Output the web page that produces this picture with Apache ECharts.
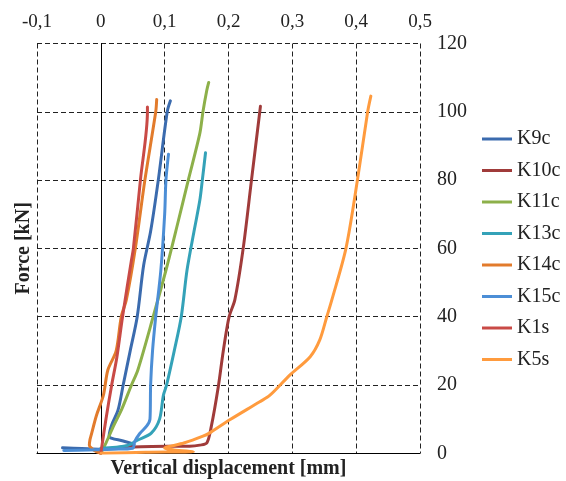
<!DOCTYPE html>
<html>
<head>
<meta charset="utf-8">
<script src="https://cdn.jsdelivr.net/npm/echarts@6/dist/echarts.min.js"></script>
<style>
  html, body { margin: 0; padding: 0; background: #fff; }
  #chart { width: 566px; height: 481px; }
</style>
</head>
<body>
<div id="chart"></div>
<script>
// Load–displacement curves: [vertical displacement (mm), force (kN)]
const seriesNames = ['K9c', 'K10c', 'K11c', 'K13c', 'K14c', 'K15c', 'K1s', 'K5s'];

const K9c = [[-0.060,1.6],[-0.030,1.4],[0.000,1.2],[0.030,1.8],[0.052,2.6],[0.035,3.6],[0.013,5.0],[0.017,8.3],[0.027,12.7],[0.035,20],[0.046,30],[0.057,40],[0.067,55],[0.078,65],[0.090,80],[0.104,100],[0.109,103.2]];
const K10c = [[0.040,1.8],[0.080,2.0],[0.139,2.1],[0.155,2.4],[0.166,3.0],[0.173,7.8],[0.184,19.5],[0.192,30.2],[0.201,40],[0.210,45],[0.223,60],[0.236,80],[0.249,100],[0.250,101.6]];
const K11c = [[0.000,0.0],[0.008,3],[0.020,8],[0.033,13],[0.048,20],[0.058,24.4],[0.082,40],[0.102,53.6],[0.120,67],[0.137,80],[0.155,93.6],[0.160,100],[0.166,106.3],[0.169,108.6]];
const K13c = [[0.000,1.5],[0.040,2.2],[0.058,3.9],[0.079,5.9],[0.092,10],[0.098,17],[0.103,20],[0.115,30],[0.126,40],[0.135,53.6],[0.146,65],[0.155,74],[0.159,80],[0.164,88]];
const K14c = [[0.000,0.0],[-0.010,0.8],[-0.018,2.4],[-0.017,4.0],[-0.015,5.4],[-0.007,11],[0.004,17],[0.011,24.4],[0.024,30],[0.032,40],[0.040,45],[0.054,60],[0.069,80],[0.086,100],[0.0875,103.6]];
const K15c = [[-0.058,0.8],[-0.020,1.0],[0.020,1.2],[0.050,1.5],[0.053,3.4],[0.061,5.8],[0.072,8],[0.077,10],[0.078,20],[0.081,30],[0.086,40],[0.094,53.6],[0.100,70],[0.102,80],[0.106,87.6]];
const K1s = [[0.000,0.0],[0.008,10],[0.017,20],[0.025,28],[0.034,40],[0.048,56.6],[0.051,60],[0.062,80],[0.073,100],[0.073,101.4]];
const K5s = [[0.000,0.0],[0.070,0.3],[0.145,0.5],[0.115,1.0],[0.100,1.5],[0.130,3.0],[0.160,5.0],[0.170,5.9],[0.202,9.8],[0.249,15.1],[0.265,17],[0.296,22.9],[0.328,28.3],[0.343,33.2],[0.354,40],[0.362,45],[0.384,60],[0.402,80],[0.418,100],[0.423,104.6]];

const seriesData = [K9c, K10c, K11c, K13c, K14c, K15c, K1s, K5s];
const seriesColors = ['#3B6BAE', '#A03B3A', '#8DB04A', '#34A2B8', '#E27B2C', '#4C8ED6', '#C94A46', '#FF9B3E'];

const xTickLabels = ['-0,1', '0', '0,1', '0,2', '0,3', '0,4', '0,5'];
const yTickLabels = ['0', '20', '40', '60', '80', '100', '120'];

const FONT = '"Liberation Serif", "Times New Roman", serif';
const dashed = { type: [5, 3], color: '#222', width: 1 };

const chart = echarts.init(document.getElementById('chart'), null, { renderer: 'canvas' });

chart.setOption({
  animation: false,
  backgroundColor: '#fff',
  textStyle: { fontFamily: FONT },
  grid: { left: 37, right: 146, top: 43.5, bottom: 27.7, containLabel: false, outerBoundsMode: 'none' },
  legend: {
    orient: 'vertical',
    left: 477,
    top: 124,
    itemWidth: 30,
    itemHeight: 3,
    itemGap: 11.5,
    icon: 'rect',
    textStyle: { fontFamily: FONT, fontSize: 20, color: '#222', lineHeight: 18 },
    data: seriesNames
  },
  xAxis: [
    {
      type: 'value', position: 'top', min: -0.1, max: 0.5, interval: 0.1,
      axisLine: { show: false, onZero: false },
      axisTick: { show: false },
      axisLabel: {
        fontFamily: FONT, fontSize: 19, color: '#222', margin: 12,
        formatter: (v) => xTickLabels[Math.round((v + 0.1) * 10)]
      },
      splitLine: { show: true, lineStyle: dashed }
    },
    {
      type: 'value', position: 'bottom', min: -0.1, max: 0.5, interval: 0.1,
      axisLine: { show: true, onZero: false, lineStyle: { color: '#000', width: 1 } },
      axisTick: { show: false },
      axisLabel: { show: false },
      splitLine: { show: false },
      name: 'Vertical displacement [mm]',
      nameLocation: 'middle',
      nameGap: 6,
      nameTextStyle: { fontFamily: FONT, fontSize: 20, fontWeight: 'bold', color: '#222' }
    }
  ],
  yAxis: [
    {
      type: 'value', position: 'right', min: 0, max: 120, interval: 20,
      axisLine: { show: false, onZero: false },
      axisTick: { show: false },
      axisLabel: {
        fontFamily: FONT, fontSize: 20, color: '#222', margin: 17, align: 'left',
        formatter: (v) => yTickLabels[Math.round(v / 20)]
      },
      splitLine: { show: true, lineStyle: dashed }
    },
    {
      type: 'value', position: 'left', min: 0, max: 120, interval: 20,
      axisLine: { show: false, onZero: false },
      axisTick: { show: false },
      axisLabel: { show: false },
      splitLine: { show: false },
      name: 'Force [kN]',
      nameLocation: 'middle',
      nameGap: 3,
      nameTextStyle: { fontFamily: FONT, fontSize: 20, fontWeight: 'bold', color: '#222' }
    },
    {
      // solid zero line of the displacement scale
      type: 'value', position: 'left', min: 0, max: 120, interval: 20,
      axisLine: { show: true, onZero: true, lineStyle: { color: '#000', width: 1 } },
      axisTick: { show: false },
      axisLabel: { show: false },
      splitLine: { show: false }
    }
  ],
  series: seriesNames.map((name, i) => ({
    name,
    type: 'line',
    xAxisIndex: 0,
    yAxisIndex: 0,
    data: seriesData[i],
    showSymbol: false,
    symbol: 'none',
    smooth: 0.3,
    color: seriesColors[i],
    lineStyle: { width: 3, color: seriesColors[i], cap: 'round', join: 'round' }
  }))
});
</script>
</body>
</html>
